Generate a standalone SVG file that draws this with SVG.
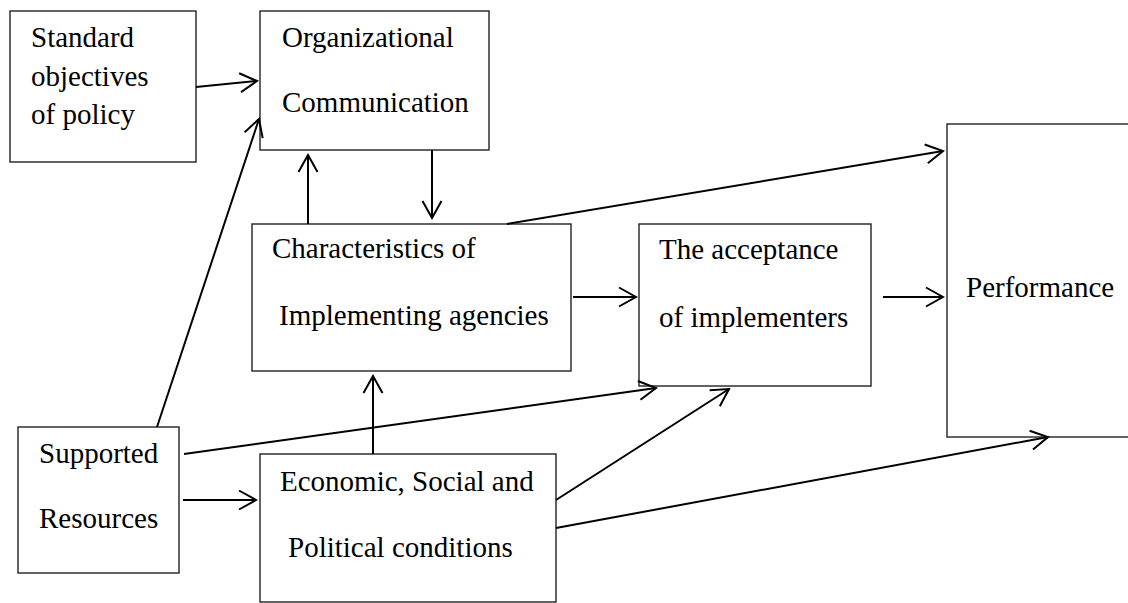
<svg xmlns="http://www.w3.org/2000/svg" width="1128" height="603" viewBox="0 0 1128 603">
<style>
.box{fill:#fff;stroke:#222;stroke-width:1.4}
.lbl{font-family:"Liberation Serif","Times New Roman",serif;font-size:29px;fill:#000}
.c{fill:none;stroke:#000;stroke-width:2}
</style>
<defs>
<marker id="ah" viewBox="-19 -11 21 22" refX="0" refY="0" markerWidth="21" markerHeight="22" markerUnits="userSpaceOnUse" orient="auto">
<path d="M-17,-9.5 L0,0 L-17,9.5" fill="none" stroke="#000" stroke-width="2"/>
</marker>
</defs>
<rect width="1128" height="603" fill="#fff"/>
<g id="n-standard"><rect class="box" x="10" y="11" width="186" height="151"/>
<text class="lbl" x="31" y="47">Standard</text><text class="lbl" x="31" y="86">objectives</text><text class="lbl" x="31" y="124">of policy</text></g>
<g id="n-org"><rect class="box" x="260" y="11" width="229" height="139"/>
<text class="lbl" x="282" y="47">Organizational</text><text class="lbl" x="282" y="112">Communication</text></g>
<g id="n-char"><rect class="box" x="252" y="224" width="319" height="147"/>
<text class="lbl" x="272" y="258">Characteristics of</text><text class="lbl" x="279" y="325">Implementing agencies</text></g>
<g id="n-accept"><rect class="box" x="639" y="224" width="232" height="162"/>
<text class="lbl" x="659" y="259">The acceptance</text><text class="lbl" x="659" y="327">of implementers</text></g>
<g id="n-perf"><rect class="box" x="947" y="124" width="200" height="313"/>
<text class="lbl" x="966" y="297">Performance</text></g>
<g id="n-support"><rect class="box" x="18" y="427" width="161" height="146"/>
<text class="lbl" x="39" y="463">Supported</text><text class="lbl" x="39" y="528">Resources</text></g>
<g id="n-econ"><rect class="box" x="260" y="454" width="296" height="148"/>
<text class="lbl" x="280" y="491">Economic, Social and</text><text class="lbl" x="288" y="557">Political conditions</text></g>
<g id="connectors">
<line class="c" x1="196" y1="87" x2="257" y2="81" marker-end="url(#ah)"/>
<line class="c" x1="157" y1="427" x2="259" y2="119" marker-end="url(#ah)"/>
<line class="c" x1="308" y1="224" x2="308" y2="155" marker-end="url(#ah)"/>
<line class="c" x1="432" y1="150" x2="432" y2="218" marker-end="url(#ah)"/>
<line class="c" x1="507" y1="224" x2="943" y2="151" marker-end="url(#ah)"/>
<line class="c" x1="573" y1="297" x2="636" y2="297" marker-end="url(#ah)"/>
<line class="c" x1="883" y1="297" x2="943" y2="297" marker-end="url(#ah)"/>
<line class="c" x1="373" y1="454" x2="373" y2="376" marker-end="url(#ah)"/>
<line class="c" x1="183" y1="500" x2="256" y2="500" marker-end="url(#ah)"/>
<line class="c" x1="184" y1="454" x2="656" y2="388" marker-end="url(#ah)"/>
<line class="c" x1="556" y1="500" x2="729" y2="389" marker-end="url(#ah)"/>
<line class="c" x1="556" y1="528" x2="1048" y2="437" marker-end="url(#ah)"/>
</g>
</svg>
